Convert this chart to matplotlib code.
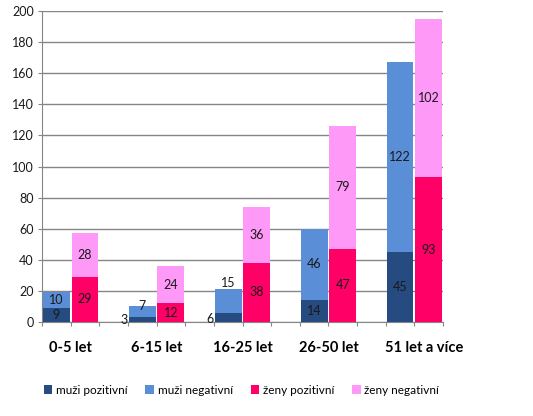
import numpy as np
import matplotlib.pyplot as plt
from matplotlib.transforms import ScaledTranslation

plt.rcParams['font.family'] = ['Lato', 'DejaVu Sans']

# data
groups = ["0-5 let", "6-15 let", "16-25 let", "26-50 let", "51 let a více"]
muzi_poz = [9, 3, 6, 14, 45]
muzi_neg = [10, 7, 15, 46, 122]
zeny_poz = [29, 12, 38, 47, 93]
zeny_neg = [28, 24, 36, 79, 102]
series_names = ["muži pozitivní", "muži negativní", "ženy pozitivní", "ženy negativní"]
colors = ["#254B80", "#5A8ED6", "#FF0066", "#FF99F8"]

# each group takes three slots: men, women, empty
n = len(groups)
x_men = np.arange(n) * 3
x_women = x_men + 1
width = 0.94

fig = plt.figure(figsize=(5.33, 4.16), dpi=100)
ax = fig.add_axes([42 / 533, 1 - 322 / 416, 401 / 533, 311 / 416])

b1 = ax.bar(x_men, muzi_poz, width, color=colors[0], label=series_names[0], zorder=3)
b2 = ax.bar(x_men, muzi_neg, width, bottom=muzi_poz, color=colors[1], label=series_names[1], zorder=3)
b3 = ax.bar(x_women, zeny_poz, width, color=colors[2], label=series_names[2], zorder=3)
b4 = ax.bar(x_women, zeny_neg, width, bottom=zeny_poz, color=colors[3], label=series_names[3], zorder=3)

lab_kw = dict(ha="center", va="center", fontsize=9, color="#1a1a1a", zorder=4)
for i in range(n):
    # men positive
    if muzi_poz[i] < 8:
        ax.text(x_men[i] - 0.65, muzi_poz[i] * 0.35, str(muzi_poz[i]), **lab_kw)
    else:
        ax.text(x_men[i], muzi_poz[i] / 2, str(muzi_poz[i]), **lab_kw)
    # men negative
    if muzi_neg[i] < 20 and muzi_poz[i] < 8:
        top = muzi_poz[i] + muzi_neg[i]
        yy = top + 0.6 if muzi_neg[i] < 10 else top + 4
        ax.text(x_men[i], yy, str(muzi_neg[i]), **lab_kw)
    else:
        ax.text(x_men[i], muzi_poz[i] + muzi_neg[i] / 2, str(muzi_neg[i]), **lab_kw)
    ax.text(x_women[i], zeny_poz[i] / 2, str(zeny_poz[i]), **lab_kw)
    ax.text(x_women[i], zeny_poz[i] + zeny_neg[i] / 2, str(zeny_neg[i]), **lab_kw)

ax.set_ylim(0, 200)
ax.set_xlim(-0.5, 3 * n - 1 - 0.5)
ax.set_yticks(np.arange(0, 201, 20))
ax.yaxis.grid(True, color="#868686", linewidth=1, zorder=0)
ax.tick_params(axis="y", labelsize=9, length=3, color="#868686", labelcolor="#1a1a1a", pad=3)

# tick marks on slot borders, category names between the two bars
ax.xaxis.remove_overlapping_locs = False
ax.set_xticks(np.arange(-0.5, 3 * n - 1, 1))
ax.set_xticklabels([])
ax.tick_params(axis="x", length=3, color="#868686")
ax.set_xticks(x_men + 0.5, minor=True)
ax.set_xticklabels(groups, minor=True, fontsize=10.5, fontweight="bold")
ax.tick_params(axis="x", which="minor", length=0, pad=14)
last = ax.xaxis.get_minorticklabels()[-1]
last.set_transform(last.get_transform() + ScaledTranslation(0.1, 0, fig.dpi_scale_trans))

for s in ["top", "right"]:
    ax.spines[s].set_visible(False)
for s in ["left", "bottom"]:
    ax.spines[s].set_color("#868686")

fig.legend(handles=[b1, b2, b3, b4], loc="center", bbox_to_anchor=(0.453, 1 - 390 / 416),
           ncol=4, frameon=False, fontsize=8.5, handlelength=0.75, handleheight=0.75,
           handletextpad=0.3, columnspacing=1.5)

fig.savefig("out.png", dpi=100)
